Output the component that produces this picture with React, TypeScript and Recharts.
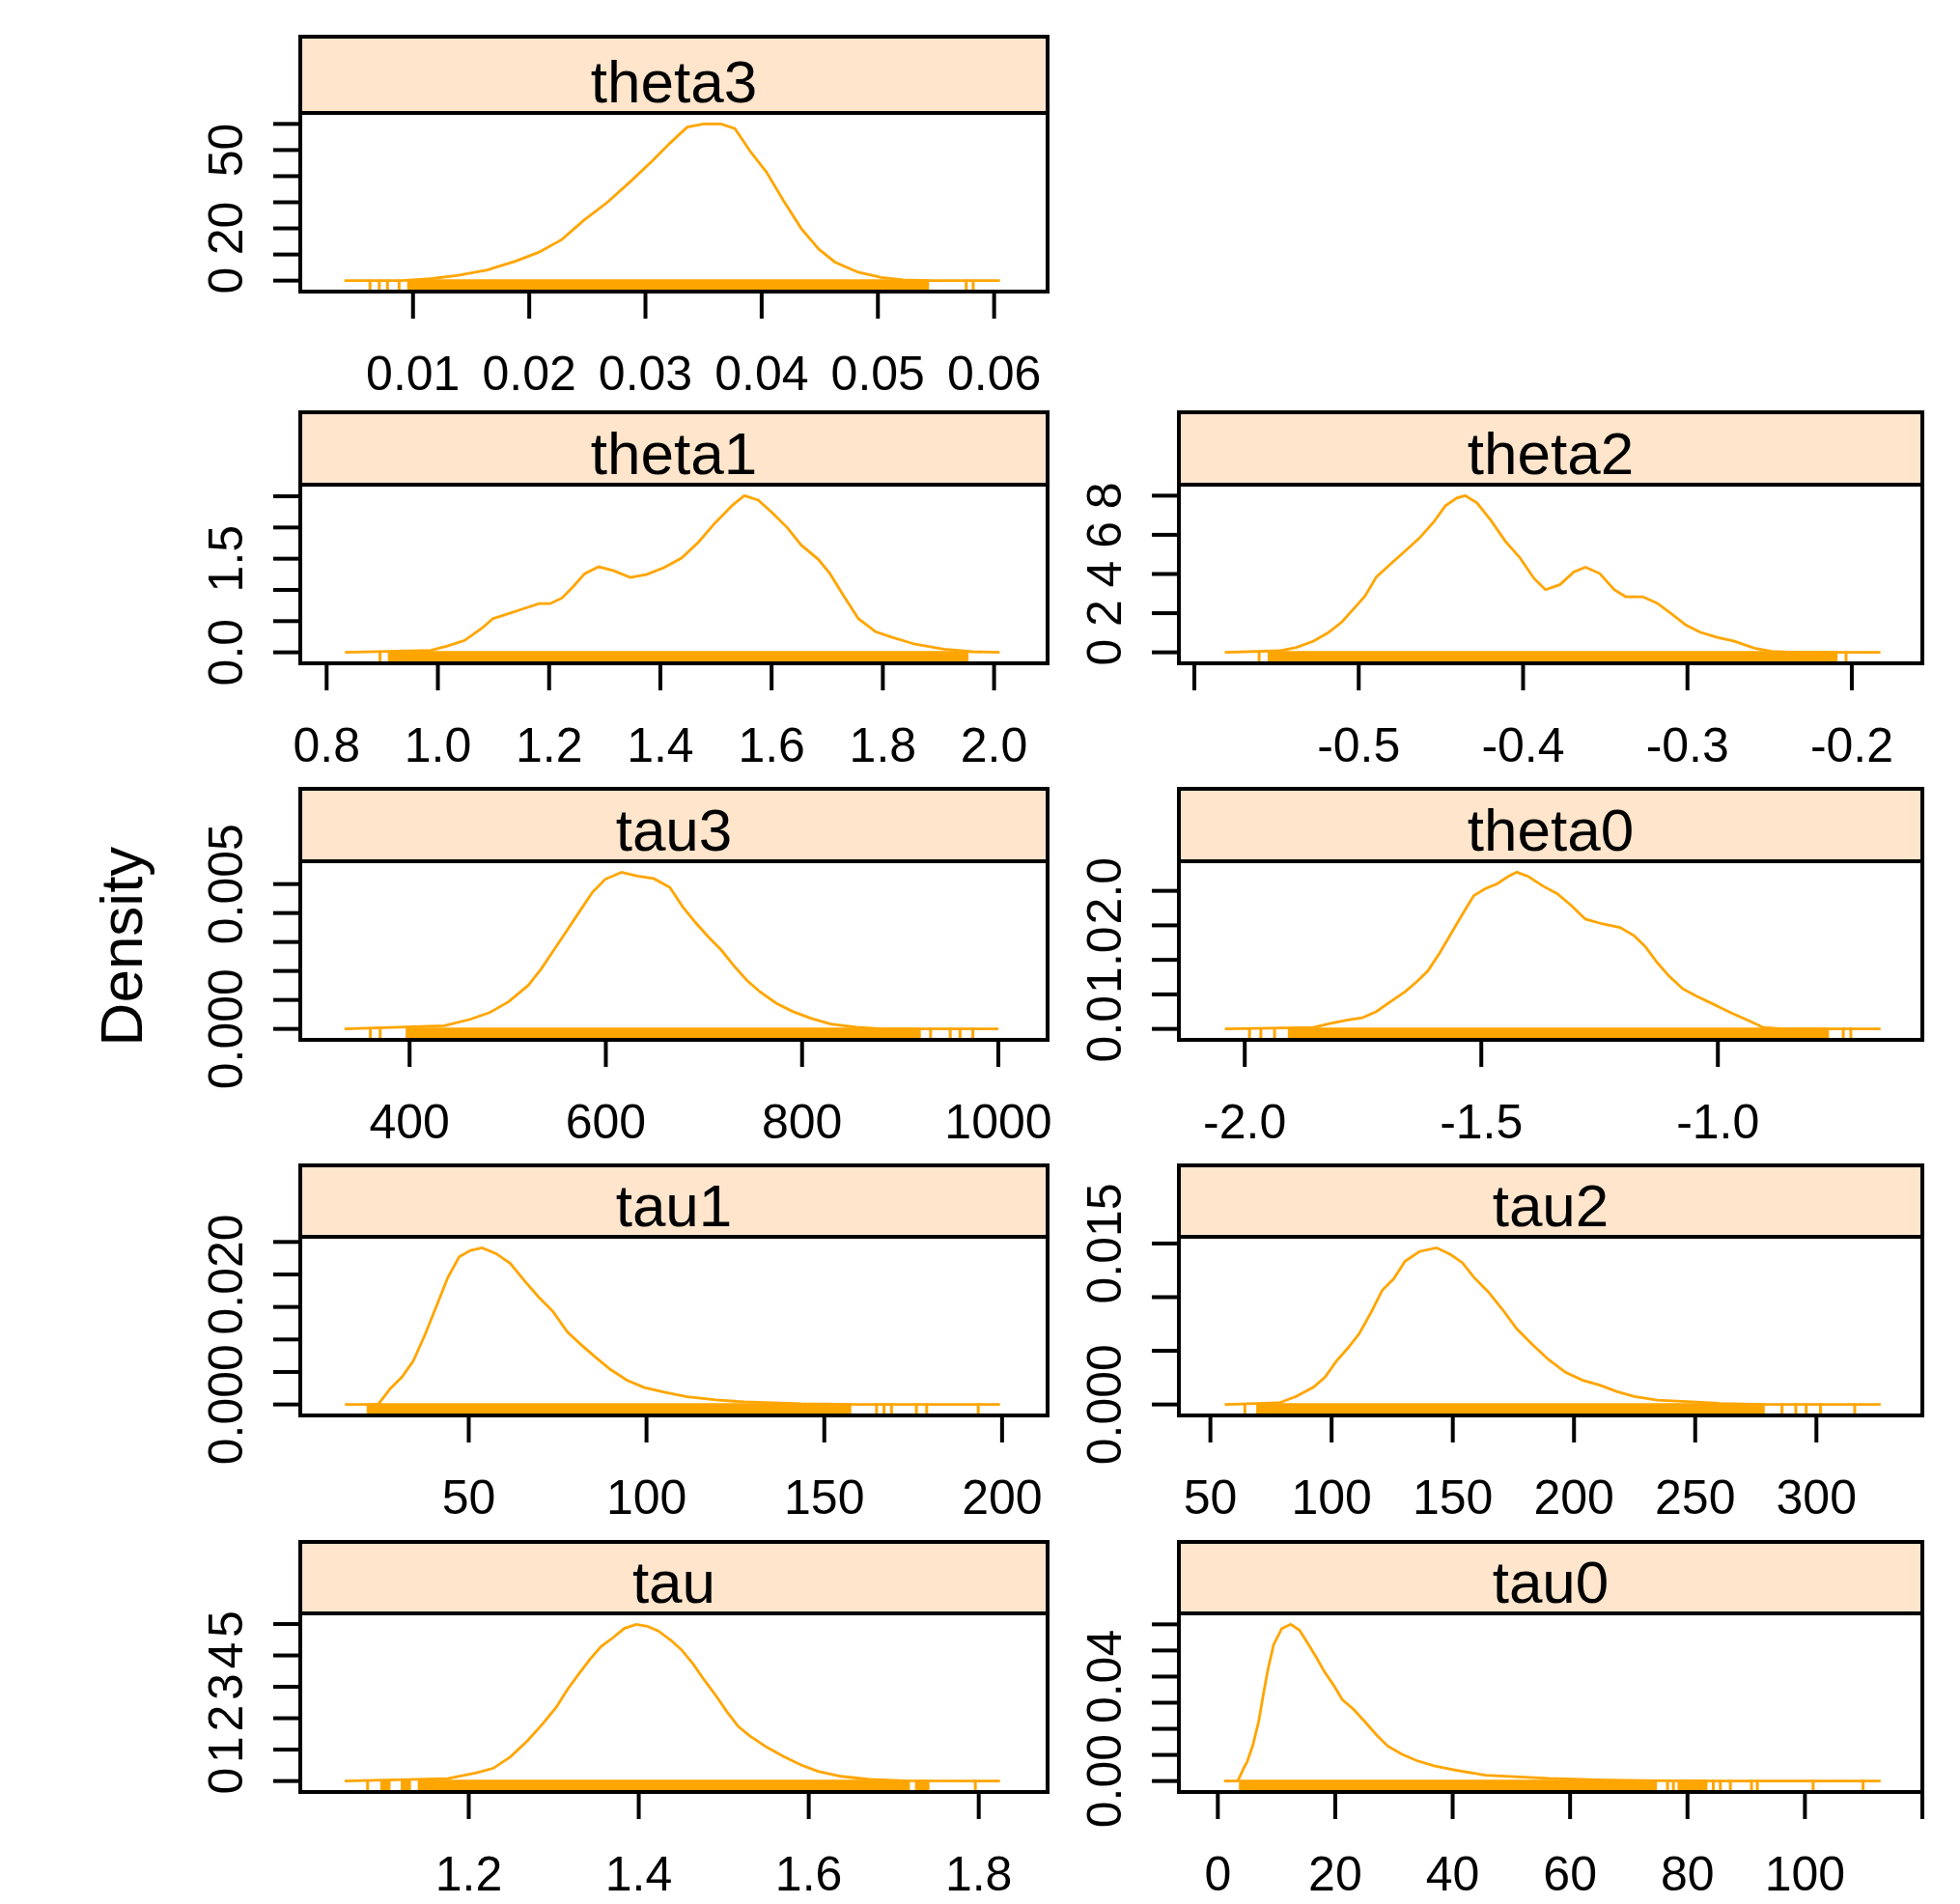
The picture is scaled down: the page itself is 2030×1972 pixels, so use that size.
import React from 'react';
import { LineChart, Line, XAxis, YAxis, ReferenceArea, ReferenceLine } from 'recharts';

const FONT = '"Liberation Sans", Arial, sans-serif';
const ORANGE = '#FFA500';
const STRIP = '#FFE5CC';

// ---- theta3 ----
const theta3X = [0.0041, 0.009, 0.0115, 0.0139, 0.0164, 0.0188, 0.0208, 0.0228, 0.0247, 0.0267, 0.0287, 0.0306, 0.0321, 0.0336, 0.035, 0.0365, 0.0377, 0.039, 0.0404, 0.0419, 0.0434, 0.0449, 0.0463, 0.0483, 0.0503, 0.0522, 0.0547, 0.0605];
const theta3Y = [0, 0, 0.7, 2.0, 4.1, 7.4, 10.8, 15.7, 23.1, 29.9, 37.9, 45.9, 52.6, 58.8, 60.0, 60.0, 58.2, 49.6, 41.6, 30.5, 20.0, 12.1, 7.1, 3.2, 1.2, 0.3, 0, 0];
const theta3Bands = [[0.0095, 0.0544]];
const theta3Rug = [0.0063, 0.0071, 0.0078, 0.0088, 0.0576, 0.0582];
const theta3XTicks = [0.01, 0.02, 0.03, 0.04, 0.05, 0.06];
const theta3XLabels = ['0.01', '0.02', '0.03', '0.04', '0.05', '0.06'];
const theta3YTicks = [0, 10, 20, 30, 40, 50, 60];
const theta3YLabels = ['0', '', '20', '', '', '50', ''];

// ---- theta1 ----
const theta1X = [0.833, 0.987, 1.017, 1.048, 1.079, 1.099, 1.12, 1.151, 1.182, 1.202, 1.223, 1.243, 1.264, 1.289, 1.315, 1.346, 1.376, 1.407, 1.438, 1.469, 1.499, 1.53, 1.551, 1.576, 1.602, 1.628, 1.653, 1.684, 1.705, 1.73, 1.756, 1.787, 1.817, 1.858, 1.91, 1.961, 2.01];
const theta1Y = [0, 0.03, 0.1, 0.19, 0.385, 0.54, 0.6, 0.69, 0.78, 0.78, 0.87, 1.05, 1.26, 1.37, 1.31, 1.2, 1.25, 1.36, 1.51, 1.77, 2.08, 2.36, 2.51, 2.44, 2.23, 2.0, 1.72, 1.49, 1.26, 0.9, 0.54, 0.33, 0.24, 0.13, 0.05, 0.01, 0];
const theta1Bands = [[0.91, 1.954]];
const theta1Rug = [0.896];
const theta1XTicks = [0.8, 1.0, 1.2, 1.4, 1.6, 1.8, 2.0];
const theta1XLabels = ['0.8', '1.0', '1.2', '1.4', '1.6', '1.8', '2.0'];
const theta1YTicks = [0, 0.5, 1.0, 1.5, 2.0, 2.5];
const theta1YLabels = ['0.0', '', '', '1.5', '', ''];

// ---- theta2 ----
const theta2X = [-0.5815, -0.5484, -0.538, -0.5275, -0.5188, -0.5101, -0.5031, -0.4962, -0.4892, -0.4805, -0.4718, -0.4631, -0.4544, -0.4474, -0.4404, -0.4352, -0.4282, -0.4195, -0.4108, -0.4021, -0.3934, -0.3864, -0.3777, -0.369, -0.362, -0.3533, -0.3446, -0.3376, -0.3272, -0.3185, -0.3098, -0.301, -0.2923, -0.2819, -0.2714, -0.2592, -0.2488, -0.2348, -0.1826];
const theta2Y = [0, 0.08, 0.25, 0.57, 0.99, 1.56, 2.22, 2.87, 3.86, 4.52, 5.17, 5.83, 6.65, 7.47, 7.88, 8.0, 7.64, 6.73, 5.67, 4.85, 3.78, 3.2, 3.45, 4.11, 4.35, 4.02, 3.2, 2.84, 2.84, 2.51, 1.97, 1.4, 1.03, 0.77, 0.57, 0.21, 0.05, 0, 0];
const theta2Bands = [[-0.5554, -0.2087]];
const theta2Rug = [-0.5606, -0.2035];
const theta2XTicks = [-0.6, -0.5, -0.4, -0.3, -0.2];
const theta2XLabels = ['', '-0.5', '-0.4', '-0.3', '-0.2'];
const theta2YTicks = [0, 2, 4, 6, 8];
const theta2YLabels = ['0', '2', '4', '6', '8'];

// ---- tau3 ----
const tau3X = [333.7, 435.4, 461.7, 481.4, 501.1, 520.8, 533.9, 547.0, 560.2, 573.3, 586.4, 599.5, 616.0, 632.4, 648.8, 665.2, 678.3, 691.4, 704.6, 717.7, 730.8, 743.9, 757.1, 773.5, 789.9, 809.6, 829.3, 855.5, 881.8, 1000];
const tau3Y = [0, 0.00011, 0.00033, 0.00056, 0.00094, 0.0015, 0.00206, 0.00272, 0.00339, 0.00406, 0.00472, 0.00517, 0.00541, 0.00528, 0.00519, 0.00489, 0.00422, 0.00367, 0.00317, 0.00272, 0.00217, 0.00167, 0.00128, 0.00089, 0.00061, 0.00036, 0.00017, 0.00006, 0, 0];
const tau3Bands = [[396, 921]];
const tau3Rug = [360, 370, 931, 951, 961, 974];
const tau3XTicks = [400, 600, 800, 1000];
const tau3XLabels = ['400', '600', '800', '1000'];
const tau3YTicks = [0, 0.001, 0.002, 0.003, 0.004, 0.005];
const tau3YLabels = ['0.000', '', '', '', '', '0.005'];

// ---- theta0 ----
const theta0X = [-2.042, -1.855, -1.818, -1.782, -1.752, -1.722, -1.691, -1.661, -1.637, -1.613, -1.588, -1.564, -1.54, -1.516, -1.492, -1.467, -1.443, -1.425, -1.401, -1.37, -1.34, -1.31, -1.28, -1.243, -1.207, -1.177, -1.153, -1.128, -1.104, -1.074, -1.044, -1.007, -0.971, -0.935, -0.904, -0.862, -0.656];
const theta0Y = [0, 0.02, 0.08, 0.13, 0.16, 0.25, 0.4, 0.54, 0.68, 0.84, 1.1, 1.38, 1.66, 1.93, 2.03, 2.1, 2.21, 2.27, 2.21, 2.07, 1.96, 1.79, 1.59, 1.52, 1.47, 1.35, 1.19, 0.96, 0.77, 0.58, 0.47, 0.35, 0.23, 0.12, 0.02, 0, 0];
const theta0Bands = [[-1.909, -0.765]];
const theta0Rug = [-1.99, -1.966, -1.937, -0.735, -0.719];
const theta0XTicks = [-2.0, -1.5, -1.0];
const theta0XLabels = ['-2.0', '-1.5', '-1.0'];
const theta0YTicks = [0, 0.5, 1.0, 1.5, 2.0];
const theta0YLabels = ['0.0', '', '1.0', '', '2.0'];

// ---- tau1 ----
const tau1X = [15.2, 24.5, 28.0, 31.2, 34.4, 37.6, 40.9, 44.1, 47.3, 50.5, 53.7, 57.7, 61.7, 65.7, 69.7, 73.7, 77.8, 81.8, 85.8, 89.8, 94.6, 99.4, 105.0, 111.4, 119.5, 127.5, 143.5, 159.6, 199.4];
const tau1Y = [0, 0, 0.00247, 0.0042, 0.0067, 0.0106, 0.0151, 0.0195, 0.0227, 0.0237, 0.0241, 0.0232, 0.0217, 0.019, 0.0165, 0.0143, 0.0111, 0.0091, 0.0072, 0.0054, 0.0037, 0.0026, 0.0019, 0.0012, 0.0007, 0.0004, 0.0001, 0, 0];
const tau1Bands = [[21.3, 157.6]];
const tau1Rug = [164.7, 166.8, 168.9, 175.9, 178.8, 193.3];
const tau1XTicks = [50, 100, 150, 200];
const tau1XLabels = ['50', '100', '150', '200'];
const tau1YTicks = [0, 0.005, 0.01, 0.015, 0.02, 0.025];
const tau1YLabels = ['0.000', '', '', '', '0.020', ''];

// ---- tau2 ----
const tau2X = [55.9, 78.4, 85.4, 92.5, 97.3, 102.0, 106.7, 111.4, 116.2, 120.9, 125.6, 130.3, 136.2, 143.3, 149.2, 154.0, 158.7, 164.6, 170.5, 176.4, 182.3, 189.4, 196.5, 203.6, 210.7, 217.8, 224.9, 234.3, 248.5, 260.3, 279.2, 326.5];
const tau2Y = [0, 0.00015, 0.00075, 0.0016, 0.00255, 0.00405, 0.00525, 0.0066, 0.00855, 0.01065, 0.0117, 0.01335, 0.01425, 0.0146, 0.01395, 0.0132, 0.01185, 0.0105, 0.00885, 0.00705, 0.0057, 0.0042, 0.003, 0.00225, 0.0018, 0.0012, 0.00075, 0.0004, 0.00024, 0.0001, 0, 0];
const tau2Bands = [[68.9, 278.7]];
const tau2Rug = [64.2, 285.8, 291.5, 295.8, 301.7, 315.8];
const tau2XTicks = [50, 100, 150, 200, 250, 300];
const tau2XLabels = ['50', '100', '150', '200', '250', '300'];
const tau2YTicks = [0, 0.005, 0.01, 0.015];
const tau2YLabels = ['0.000', '', '', '0.015'];

// ---- tau ----
const tauX = [1.054, 1.175, 1.209, 1.229, 1.249, 1.269, 1.286, 1.303, 1.316, 1.33, 1.343, 1.356, 1.37, 1.383, 1.397, 1.41, 1.423, 1.437, 1.45, 1.464, 1.477, 1.491, 1.504, 1.517, 1.531, 1.551, 1.571, 1.591, 1.611, 1.638, 1.672, 1.712, 1.825];
const tauY = [0, 0.08, 0.26, 0.41, 0.77, 1.28, 1.79, 2.35, 2.91, 3.43, 3.89, 4.29, 4.57, 4.86, 4.99, 4.93, 4.78, 4.5, 4.19, 3.73, 3.22, 2.71, 2.2, 1.74, 1.43, 1.07, 0.77, 0.51, 0.31, 0.15, 0.05, 0.01, 0];
const tauBands = [[1.096, 1.108], [1.12, 1.132], [1.14, 1.719], [1.725, 1.742]];
const tauRug = [1.081, 1.796];
const tauXTicks = [1.2, 1.4, 1.6, 1.8];
const tauXLabels = ['1.2', '1.4', '1.6', '1.8'];
const tauYTicks = [0, 1, 2, 3, 4, 5];
const tauYLabels = ['0', '1', '2', '3', '4', '5'];

// ---- tau0 ----
const tau0X = [1.05, 3.4, 4.4, 5.0, 6.0, 7.0, 7.7, 8.5, 9.5, 10.9, 12.4, 13.9, 15.3, 16.8, 18.2, 19.7, 21.2, 23.1, 25.1, 27.0, 29.0, 31.4, 33.9, 36.8, 40.7, 45.6, 51.4, 56.3, 66.0, 75.8, 85.6, 112.9];
const tau0Y = [0, 0, 0.0049, 0.0074, 0.014, 0.0232, 0.0325, 0.0423, 0.0522, 0.0584, 0.06, 0.0578, 0.0528, 0.0473, 0.0417, 0.0368, 0.0312, 0.0275, 0.0226, 0.0177, 0.0133, 0.0102, 0.0078, 0.0058, 0.0041, 0.0022, 0.0016, 0.001, 0.0004, 0.0001, 0, 0];
const tau0Bands = [[3.6, 74.8], [78.3, 83.4]];
const tau0Rug = [76.6, 77.6, 84.4, 85.6, 87.3, 90.9, 91.9, 101.4, 109.9];
const tau0XTicks = [0, 20, 40, 60, 80, 100, 120];
const tau0XLabels = ['0', '20', '40', '60', '80', '100', ''];
const tau0YTicks = [0, 0.01, 0.02, 0.03, 0.04, 0.05, 0.06];
const tau0YLabels = ['0.00', '', '', '', '0.04', '', ''];

type PanelSpec = {
  name: string;
  row: number;
  col: number;
  x: number[];
  y: number[];
  bands: number[][];
  rug: number[];
  xDomain: [number, number];
  xTicks: number[];
  xLabels: string[];
  yTicks: number[];
  yLabels: string[];
};

const panels: PanelSpec[] = [
  { name: 'theta3', row: 0, col: 0, x: theta3X, y: theta3Y, bands: theta3Bands, rug: theta3Rug, xDomain: [0.0003, 0.0646], xTicks: theta3XTicks, xLabels: theta3XLabels, yTicks: theta3YTicks, yLabels: theta3YLabels },
  { name: 'theta1', row: 1, col: 0, x: theta1X, y: theta1Y, bands: theta1Bands, rug: theta1Rug, xDomain: [0.7526, 2.0962], xTicks: theta1XTicks, xLabels: theta1XLabels, yTicks: theta1YTicks, yLabels: theta1YLabels },
  { name: 'theta2', row: 1, col: 1, x: theta2X, y: theta2Y, bands: theta2Bands, rug: theta2Rug, xDomain: [-0.6094, -0.1571], xTicks: theta2XTicks, xLabels: theta2XLabels, yTicks: theta2YTicks, yLabels: theta2YLabels },
  { name: 'tau3', row: 2, col: 0, x: tau3X, y: tau3Y, bands: tau3Bands, rug: tau3Rug, xDomain: [288.6, 1050.2], xTicks: tau3XTicks, xLabels: tau3XLabels, yTicks: tau3YTicks, yLabels: tau3YLabels },
  { name: 'theta0', row: 2, col: 1, x: theta0X, y: theta0Y, bands: theta0Bands, rug: theta0Rug, xDomain: [-2.1392, -0.5678], xTicks: theta0XTicks, xLabels: theta0XLabels, yTicks: theta0YTicks, yLabels: theta0YLabels },
  { name: 'tau1', row: 3, col: 0, x: tau1X, y: tau1Y, bands: tau1Bands, rug: tau1Rug, xDomain: [2.62, 212.8], xTicks: tau1XTicks, xLabels: tau1XLabels, yTicks: tau1YTicks, yLabels: tau1YLabels },
  { name: 'tau2', row: 3, col: 1, x: tau2X, y: tau2Y, bands: tau2Bands, rug: tau2Rug, xDomain: [37.0, 343.7], xTicks: tau2XTicks, xLabels: tau2XLabels, yTicks: tau2YTicks, yLabels: tau2YLabels },
  { name: 'tau', row: 4, col: 0, x: tauX, y: tauY, bands: tauBands, rug: tauRug, xDomain: [1.0018, 1.881], xTicks: tauXTicks, xLabels: tauXLabels, yTicks: tauYTicks, yLabels: tauYLabels },
  { name: 'tau0', row: 4, col: 1, x: tau0X, y: tau0Y, bands: tau0Bands, rug: tau0Rug, xDomain: [-6.63, 120.0], xTicks: tau0XTicks, xLabels: tau0XLabels, yTicks: tau0YTicks, yLabels: tau0YLabels },
];

const COLS = [
  { left: 311, width: 774 },
  { left: 1221, width: 770 },
];
const ROWS = [
  { strip: 38, top: 117 },
  { strip: 427, top: 502 },
  { strip: 817, top: 892 },
  { strip: 1207, top: 1281 },
  { strip: 1597, top: 1671 },
];
const BOX_H = 185;
const YW = 120;
const XH = 130;

const labelFor = (ticks: number[], labels: string[], v: number) => {
  const i = ticks.findIndex((t) => Math.abs(t - v) < 1e-9);
  return i >= 0 ? labels[i] : '';
};

const Panel = ({ spec }: { spec: PanelSpec }) => {
  const col = COLS[spec.col];
  const row = ROWS[spec.row];
  const data = spec.x.map((x, i) => ({ x, y: spec.y[i] }));
  const peak = Math.max(...spec.y);
  const yDomain: [number, number] = [-0.07 * peak, 1.07 * peak];
  // rug sits between the panel floor and the zero line
  const rugLo = -0.07 * peak;
  const rugHi = 0.008 * peak;

  const xTick = (props: any) => (
    <text x={props.x} y={BOX_H + 102} textAnchor="middle" fontSize={50} fontFamily={FONT} fill="#000">
      {labelFor(spec.xTicks, spec.xLabels, props.payload.value)}
    </text>
  );
  const yTick = (props: any) => (
    <text
      transform={`translate(${YW - 60}, ${props.y}) rotate(-90)`}
      textAnchor="middle"
      fontSize={50}
      fontFamily={FONT}
      fill="#000"
    >
      {labelFor(spec.yTicks, spec.yLabels, props.payload.value)}
    </text>
  );

  return (
    <div style={{ position: 'absolute', left: col.left - YW, top: row.top }}>
      <LineChart width={YW + col.width} height={BOX_H + XH} data={data} margin={{ top: 0, right: 0, bottom: 0, left: 0 }}>
        <XAxis
          type="number"
          dataKey="x"
          domain={spec.xDomain}
          ticks={spec.xTicks}
          interval={0}
          allowDataOverflow
          height={XH}
          tickSize={28}
          axisLine={false}
          tickLine={{ stroke: '#000', strokeWidth: 4 }}
          tick={xTick}
        />
        <YAxis
          type="number"
          domain={yDomain}
          ticks={spec.yTicks}
          interval={0}
          allowDataOverflow
          width={YW}
          tickSize={28}
          axisLine={false}
          tickLine={{ stroke: '#000', strokeWidth: 4 }}
          tick={yTick}
        />
        {spec.bands.map((b, i) => (
          <ReferenceArea key={`b${i}`} x1={b[0]} x2={b[1]} y1={rugLo} y2={rugHi} fill={ORANGE} fillOpacity={1} stroke="none" />
        ))}
        {spec.rug.map((v, i) => (
          <ReferenceLine key={`r${i}`} segment={[{ x: v, y: rugLo }, { x: v, y: rugHi }]} stroke={ORANGE} strokeWidth={3} />
        ))}
        <Line type="linear" dataKey="y" stroke={ORANGE} strokeWidth={2.8} dot={false} isAnimationActive={false} />
      </LineChart>
    </div>
  );
};

export default function App() {
  return (
    <div style={{ position: 'relative', width: 2030, height: 1972, background: '#fff', fontFamily: FONT }}>
      <style>{'body{margin:0} .recharts-surface{overflow:visible}'}</style>
      {panels.map((p) => (
        <Panel key={p.name} spec={p} />
      ))}
      <svg width={2030} height={1972} style={{ position: 'absolute', left: 0, top: 0, pointerEvents: 'none' }}>
        {panels.map((p) => {
          const col = COLS[p.col];
          const row = ROWS[p.row];
          return (
            <g key={p.name}>
              <rect x={col.left} y={row.strip} width={col.width} height={row.top - row.strip} fill={STRIP} stroke="#000" strokeWidth={4} />
              <rect x={col.left} y={row.top} width={col.width} height={BOX_H} fill="none" stroke="#000" strokeWidth={4} />
              <text x={col.left + col.width / 2} y={row.top - 11} textAnchor="middle" fontSize={62} fontFamily={FONT} fill="#000">
                {p.name}
              </text>
            </g>
          );
        })}
        <text transform="translate(147, 980) rotate(-90)" textAnchor="middle" fontSize={62} fontFamily={FONT} fill="#000">
          Density
        </text>
      </svg>
    </div>
  );
}
